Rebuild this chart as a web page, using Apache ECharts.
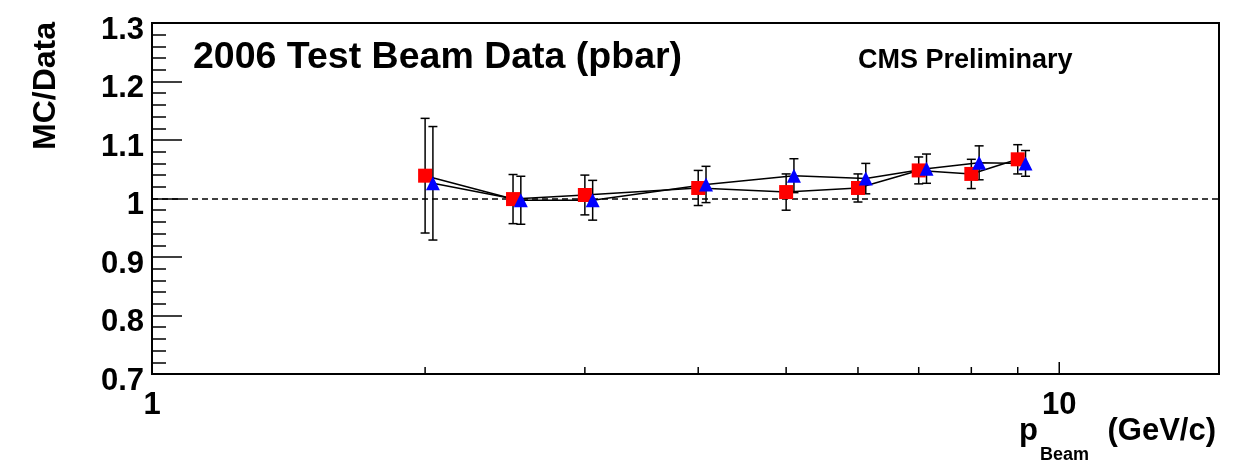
<!DOCTYPE html>
<html>
<head>
<meta charset="utf-8">
<title>MC/Data vs beam momentum</title>
<script src="https://cdn.jsdelivr.net/npm/echarts@6/dist/echarts.min.js"></script>
<style>
  html, body { margin: 0; padding: 0; background: #fff; }
  #chart { width: 1242px; height: 462px; }
</style>
</head>
<body>
<div id="chart"></div>
<script>
// Beam momentum points (GeV/c) for each simulation set; second set is drawn slightly shifted
const redMomentum  = [2.0, 2.5, 3.0, 4.0, 5.0, 6.0, 7.0, 8.0, 9.0];
const redRatio     = [1.039, 0.999, 1.006, 1.018, 1.011, 1.018, 1.048, 1.042, 1.067];
const redError     = [0.098, 0.042, 0.034, 0.030, 0.031, 0.024, 0.023, 0.025, 0.025];

const blueMomentum = [2.04, 2.55, 3.06, 4.08, 5.1, 6.12, 7.14, 8.16, 9.18];
const blueRatio    = [1.026, 0.997, 0.997, 1.024, 1.039, 1.034, 1.051, 1.061, 1.060];
const blueError    = [0.097, 0.041, 0.034, 0.031, 0.029, 0.026, 0.025, 0.029, 0.022];

// Axis decorations
const xMajorTicks = [1, 10];
const xMinorTicks = [2, 3, 4, 5, 6, 7, 8, 9];
const xRange = [1, 15];
const yRange = [0.7, 1.3];
const yStep = 0.1;
const referenceLevel = 1;

const FONT = '"Liberation Sans", Arial, Helvetica, sans-serif';

function points(xs, ys) { return xs.map((x, i) => [x, ys[i]]); }
function withErrors(xs, ys, es) { return xs.map((x, i) => [x, ys[i], es[i]]); }

function errorBarItem(params, api) {
  const x = api.value(0), y = api.value(1), e = api.value(2);
  const hi = api.coord([x, y + e]);
  const lo = api.coord([x, y - e]);
  const cap = 4.5;
  const style = { stroke: '#000', lineWidth: 1.5 };
  return {
    type: 'group',
    children: [
      { type: 'line', shape: { x1: hi[0], y1: hi[1], x2: lo[0], y2: lo[1] }, style },
      { type: 'line', shape: { x1: hi[0] - cap, y1: hi[1], x2: hi[0] + cap, y2: hi[1] }, style },
      { type: 'line', shape: { x1: lo[0] - cap, y1: lo[1], x2: lo[0] + cap, y2: lo[1] }, style }
    ]
  };
}

function tickRenderer(len) {
  return function (params, api) {
    const p = api.coord([api.value(0), yRange[0]]);
    return {
      type: 'line',
      shape: { x1: p[0], y1: p[1], x2: p[0], y2: p[1] - len },
      style: { stroke: '#000', lineWidth: 1.5 }
    };
  };
}

const chart = echarts.init(document.getElementById('chart'), null, { renderer: 'canvas' });

chart.setOption({
  animation: false,
  backgroundColor: '#fff',
  grid: {
    left: 152, right: 23, top: 23, bottom: 88,
    show: true, borderColor: '#000', borderWidth: 2, backgroundColor: 'transparent'
  },
  xAxis: {
    type: 'log',
    logBase: 10,
    min: xRange[0],
    max: xRange[1],
    axisLine: { show: true, lineStyle: { color: '#000', width: 2 } },
    axisTick: { show: false },
    splitLine: { show: false },
    axisLabel: {
      color: '#000', fontFamily: FONT, fontWeight: 'bold', fontSize: 31, margin: 16,
      showMaxLabel: false,
      formatter: v => (xMajorTicks.indexOf(Math.round(v)) >= 0 ? String(Math.round(v)) : '')
    }
  },
  yAxis: {
    type: 'value',
    min: yRange[0],
    max: yRange[1],
    interval: yStep,
    axisLine: { show: true, lineStyle: { color: '#000', width: 2 } },
    axisTick: { show: true, inside: true, length: 30, lineStyle: { color: '#000', width: 1.5 } },
    minorTick: { show: true, splitNumber: 5, length: 14, lineStyle: { color: '#000', width: 1.5 } },
    splitLine: { show: false },
    axisLabel: {
      color: '#000', fontFamily: FONT, fontWeight: 'bold', fontSize: 31, margin: 8,
      verticalAlign: 'top', lineHeight: 14,
      formatter: v => String(Math.round(v * 10) / 10)
    }
  },
  graphic: [
    {
      type: 'text', left: 193, top: 39, z: 10,
      style: { text: '2006 Test Beam Data (pbar)', fill: '#000', font: 'bold 37.5px ' + FONT }
    },
    {
      type: 'text', left: 858, top: 47, z: 10,
      style: { text: 'CMS Preliminary', fill: '#000', font: 'bold 27px ' + FONT }
    },
    {
      type: 'text', x: 46, y: 22, rotation: Math.PI / 2, z: 10,
      style: { text: 'MC/Data', fill: '#000', font: 'bold 32px ' + FONT, align: 'right', verticalAlign: 'middle' }
    },
    {
      type: 'text', x: 1019, y: 447, z: 10,
      style: { text: 'p', fill: '#000', font: 'bold 31px ' + FONT, align: 'left', verticalAlign: 'bottom' }
    },
    {
      type: 'text', x: 1040, y: 464, z: 10,
      style: { text: 'Beam', fill: '#000', font: 'bold 18px ' + FONT, align: 'left', verticalAlign: 'bottom' }
    },
    {
      type: 'text', x: 1216, y: 447, z: 10,
      style: { text: '(GeV/c)', fill: '#000', font: 'bold 31px ' + FONT, align: 'right', verticalAlign: 'bottom' }
    }
  ],
  series: [
    {
      name: 'x major ticks', type: 'custom', data: xMajorTicks.map(v => [v]),
      renderItem: tickRenderer(12), clip: false, silent: true, z: 3
    },
    {
      name: 'x minor ticks', type: 'custom', data: xMinorTicks.map(v => [v]),
      renderItem: tickRenderer(7), clip: false, silent: true, z: 3
    },
    {
      name: 'reference', type: 'line', data: [], silent: true,
      markLine: {
        silent: true, symbol: 'none', label: { show: false },
        lineStyle: { color: '#000', type: [6, 4], width: 1.5 },
        data: [{ yAxis: referenceLevel }]
      }
    },
    {
      name: 'red errors', type: 'custom',
      data: withErrors(redMomentum, redRatio, redError),
      encode: { x: 0, y: 1 }, renderItem: errorBarItem, z: 4, silent: true
    },
    {
      name: 'blue errors', type: 'custom',
      data: withErrors(blueMomentum, blueRatio, blueError),
      encode: { x: 0, y: 1 }, renderItem: errorBarItem, z: 4, silent: true
    },
    {
      name: 'red line', type: 'line', data: points(redMomentum, redRatio),
      symbol: 'none', lineStyle: { color: '#000', width: 1.5 }, z: 5, silent: true
    },
    {
      name: 'blue line', type: 'line', data: points(blueMomentum, blueRatio),
      symbol: 'none', lineStyle: { color: '#000', width: 1.5 }, z: 5, silent: true
    },
    {
      name: 'red markers', type: 'scatter', data: points(redMomentum, redRatio),
      symbol: 'rect', symbolSize: 14, itemStyle: { color: '#ff0000', opacity: 1 }, z: 6, silent: true
    },
    {
      name: 'blue markers', type: 'scatter', data: points(blueMomentum, blueRatio),
      symbol: 'triangle', symbolSize: 14, itemStyle: { color: '#0000ff', opacity: 1 }, z: 7, silent: true
    }
  ]
});
</script>
</body>
</html>
